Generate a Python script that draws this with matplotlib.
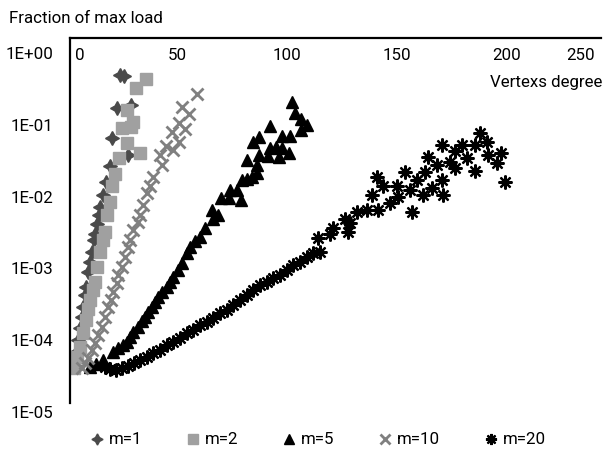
import matplotlib
matplotlib.use("Agg")
import matplotlib.pyplot as plt

plt.rcParams['font.family'] = ['Roboto', 'DejaVu Sans']
plt.rcParams['font.size'] = 12.2

# degree vs fraction of max load
x_m1 = [3.2, 4.1, 5.0, 5.9, 6.8, 7.3, 8.2, 8.6, 9.5, 10.5, 11.4, 12.3, 12.7,
        13.6, 14.5, 15.0, 16.4, 17.7, 19.5, 27.7, 20.5, 22.7, 29.1, 24.1, 25.9]
y_m1 = [4.7e-5, 7.1e-5, 1.05e-4, 1.55e-4, 2.2e-4, 3.0e-4, 4.5e-4, 5.8e-4, 9.3e-4,
        1.3e-3, 1.8e-3, 2.6e-3, 3.2e-3, 4.3e-3, 5.9e-3, 7.6e-3, 0.011, 0.017,
        0.028, 0.040, 0.069, 0.18, 0.20, 0.52, 0.51]

x_m2 = [3.2, 4.5, 5.9, 7.3, 8.6, 9.5, 10.5, 11.8, 12.7, 13.6, 15.0, 16.4, 17.3,
        18.2, 19.5, 20.5, 21.8, 23.6, 25.0, 27.3, 29.1, 27.3, 30.0, 33.2, 31.4, 35.9]
y_m2 = [4.3e-5, 6.0e-5, 8.3e-5, 1.3e-4, 2.0e-4, 2.8e-4, 3.8e-4, 5.2e-4, 6.8e-4,
        1.1e-3, 1.8e-3, 2.6e-3, 3.4e-3, 5.9e-3, 8.9e-3, 0.015, 0.022, 0.036,
        0.095, 0.059, 0.098, 0.17, 0.115, 0.043, 0.35, 0.46]

x_m5 = [10.5, 13.2, 16.4, 20.9, 23.2, 25.5, 27.3, 28.6, 30.0, 32.3, 34.1, 35.5,
        36.8, 38.6, 40.0, 41.4, 43.2, 45.5, 46.8, 48.2, 50.5, 52.3, 54.5, 55.9,
        58.2, 60.5, 62.7, 66.4, 68.6, 66.0, 70.0, 73.6, 79.1, 74.1, 77.3, 79.5,
        81.8, 84.1, 86.4, 86.4, 81.8, 87.3, 91.4, 96.4, 100.9, 97.7, 95.0, 92.3,
        84.5, 87.3, 92.3, 97.7, 101.4, 106.4, 109.1, 106.4, 103.6, 102.3]
y_m5 = [4.4e-5, 4.8e-5, 5.5e-5, 7.1e-5, 8.1e-5, 8.9e-5, 9.8e-5, 1.15e-4, 1.35e-4,
        1.6e-4, 1.9e-4, 2.2e-4, 2.6e-4, 3.0e-4, 3.5e-4, 4.2e-4, 4.9e-4, 5.8e-4,
        6.8e-4, 7.9e-4, 1.0e-3, 1.23e-3, 1.7e-3, 2.1e-3, 2.5e-3, 2.9e-3, 3.8e-3,
        5.1e-3, 5.9e-3, 6.9e-3, 0.010, 0.010, 0.0093, 0.0129, 0.0129, 0.0178,
        0.0186, 0.020, 0.0224, 0.029, 0.034, 0.040, 0.039, 0.038, 0.043, 0.050,
        0.052, 0.050, 0.060, 0.071, 0.102, 0.074, 0.074, 0.089, 0.105, 0.129,
        0.155, 0.219]

x_m10 = [6.8, 8.2, 9.5, 11.4, 12.7, 14.1, 15.9, 17.3, 18.6, 20.0, 20.9, 22.7,
         23.2, 25.0, 26.4, 27.7, 28.6, 30.0, 32.3, 33.2, 34.5, 36.4, 37.7, 39.1,
         42.3, 43.2, 45.0, 48.2, 47.7, 50.9, 50.9, 53.6, 52.3, 55.5, 59.1]
y_m10 = [4.3e-5, 5.0e-5, 5.9e-5, 7.6e-5, 9.5e-5, 1.23e-4, 1.6e-4, 2.2e-4, 3.0e-4,
         3.8e-4, 4.9e-4, 6.6e-4, 8.5e-4, 1.1e-3, 1.5e-3, 2.1e-3, 2.6e-3, 3.6e-3,
         4.7e-3, 5.9e-3, 8.1e-3, 0.0117, 0.015, 0.020, 0.040, 0.029, 0.054, 0.047,
         0.083, 0.060, 0.112, 0.093, 0.186, 0.151, 0.288]

x_m20 = [17.3, 19.5, 22.3, 25.0, 27.7, 30.5, 33.2, 36.4, 39.1, 42.3, 45.5, 48.2,
         51.4, 54.5, 57.3, 60.5, 63.6, 66.4, 69.5, 72.7, 75.5, 78.6, 81.8, 84.5,
         87.7, 90.9, 93.6, 96.8, 100.0, 102.7, 105.9, 109.1, 111.8, 115.0, 114.1,
         119.5, 120.9, 126.4, 127.7, 128.6, 131.8, 136.4, 141.4, 138.6, 140.9,
         143.6, 146.8, 150.5, 150.0, 153.6, 156.8, 155.9, 159.1, 161.8, 162.7,
         165.9, 168.2, 170.5, 170.9, 164.1, 170.5, 174.1, 176.4, 176.4, 179.5,
         181.8, 185.5, 185.5, 187.7, 190.9, 191.4, 195.5, 197.3, 199.1]
y_m20 = [4.4e-5, 4.1e-5, 4.0e-5, 4.3e-5, 4.6e-5, 5.0e-5, 5.5e-5, 6.0e-5, 6.9e-5,
         7.6e-5, 8.9e-5, 9.8e-5, 1.12e-4, 1.32e-4, 1.45e-4, 1.7e-4, 1.86e-4,
         2.1e-4, 2.5e-4, 2.75e-4, 3.2e-4, 3.8e-4, 4.5e-4, 5.2e-4, 6.2e-4, 6.8e-4,
         7.8e-4, 8.5e-4, 1.0e-3, 1.17e-3, 1.29e-3, 1.5e-3, 1.7e-3, 1.8e-3, 2.75e-3,
         3.2e-3, 3.8e-3, 5.2e-3, 3.4e-3, 4.5e-3, 6.5e-3, 6.9e-3, 6.9e-3, 0.011,
         0.020, 0.015, 0.0085, 0.0105, 0.015, 0.023, 0.0065, 0.0129, 0.0178, 0.011,
         0.023, 0.0138, 0.029, 0.0178, 0.011, 0.038, 0.055, 0.032, 0.026, 0.045,
         0.055, 0.036, 0.055, 0.024, 0.081, 0.060, 0.040, 0.031, 0.043, 0.017]

xticks = [0, 50, 100, 150, 200, 250]
ytick_labels = ["1E+00", "1E-01", "1E-02", "1E-03", "1E-04", "1E-05"]
ytick_vals = [1, 1e-1, 1e-2, 1e-3, 1e-4, 1e-5]

fig = plt.figure(figsize=(6.08, 4.5), dpi=100)
ax = fig.add_axes([70 / 608, 47 / 450, 531 / 608, 365 / 450])

ax.plot(x_m1, y_m1, ls='none', marker=(4, 1, 0), ms=10, color='#4a4a4a', label='m=1')
ax.plot(x_m2, y_m2, ls='none', marker='s', ms=8.8, color='#a0a0a0', label='m=2')
ax.plot(x_m5, y_m5, ls='none', marker='^', ms=8.5, color='black', label='m=5')
ax.plot(x_m10, y_m10, ls='none', marker='x', ms=8.5, mew=2, color='#808080', label='m=10')
ax.plot(x_m20, y_m20, ls='none', marker=(8, 2, 0), ms=10, mew=1.6, color='black', label='m=20')

ax.set_yscale('log')
ax.set_xlim(1.36, 242.7)
ax.set_ylim(10 ** -4.86, 10 ** 0.237)

for s in ['right', 'bottom']:
    ax.spines[s].set_visible(False)
for s in ['left', 'top']:
    ax.spines[s].set_linewidth(1.6)
ax.set_xticks([])
ax.set_yticks([])
ax.minorticks_off()

# tick labels placed like the original (Excel style)
for v in xticks:
    if v == 0:
        ax.annotate(str(v), xy=(v, 0.953), xycoords=ax.get_xaxis_transform(),
                    xytext=(5.8, 0), textcoords='offset points', ha='left', va='center')
    elif v == 250:
        ax.annotate(str(v), xy=(v, 0.953), xycoords=ax.get_xaxis_transform(),
                    xytext=(-15.8, 0), textcoords='offset points', ha='right', va='center')
    else:
        ax.annotate(str(v), xy=(v, 0.953), xycoords=ax.get_xaxis_transform(),
                    ha='center', va='center')

for lab, v in zip(ytick_labels, ytick_vals):
    ax.text(-0.032, v, lab, transform=ax.get_yaxis_transform(), ha='right', va='center')

fig.text(9 / 608, 1 - 11 / 450, "Fraction of max load", ha='left', va='top')
fig.text(602 / 608, 1 - 83 / 450, "Vertexs degree", ha='right', va='center')

fig.legend(loc='center', bbox_to_anchor=(0.523, 1 - 440 / 450), ncol=5, frameon=False,
           markerscale=0.8, handlelength=0.8, handletextpad=0.3, columnspacing=2.6)

fig.savefig("out.png", dpi=100)
